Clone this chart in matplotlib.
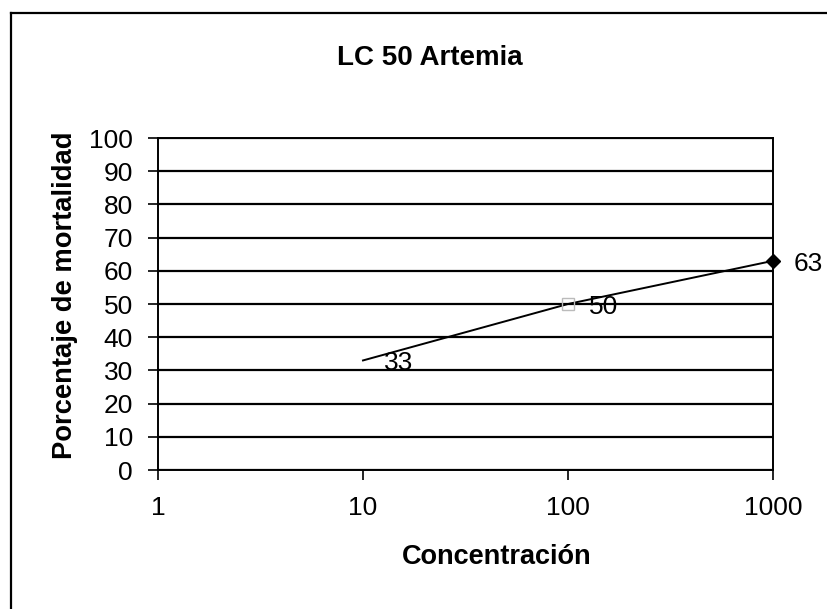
import numpy as np
import matplotlib as mpl
mpl.use('Agg')
import matplotlib.pyplot as plt
from matplotlib.lines import Line2D

plt.rcParams['font.family'] = ['Liberation Sans', 'DejaVu Sans']

# data
concentracion = [10, 100, 1000]
mortalidad = [33, 50, 63]
etiquetas = ["33", "50", "63"]
x_ticks = [1, 10, 100, 1000]
y_ticks = list(range(0, 101, 10))

W, H = 828, 609
fig = plt.figure(figsize=(W / 100, H / 100), dpi=100)

# plot area in pixels: left 158, right 773, top 138, bottom 470
ax = fig.add_axes([158 / W, 1 - 470 / H, (773 - 158) / W, (470 - 138) / H])

ax.set_xscale('log')
ax.set_xlim(1, 1000)
ax.set_ylim(0, 100)
ax.set_xticks(x_ticks)
ax.set_xticklabels([str(t) for t in x_ticks])
ax.xaxis.set_minor_locator(mpl.ticker.NullLocator())
ax.set_yticks(y_ticks)
ax.tick_params(axis='both', labelsize=19, direction='out', length=7, width=1.2, colors='black')
ax.tick_params(axis='x', pad=12)
ax.tick_params(axis='y', pad=11)

for y in y_ticks:
    ax.axhline(y, color='black', lw=1.6, zorder=1)

for sp in ax.spines.values():
    sp.set_linewidth(1.4)
    sp.set_color('black')

ax.plot(concentracion, mortalidad, color='black', lw=1.4, zorder=3)
ax.plot(concentracion[1], mortalidad[1], marker='s', ms=8, mfc='none', mec='#bbbbbb', zorder=3)
ax.plot(concentracion[2], mortalidad[2], marker='D', ms=7, color='black', zorder=4, clip_on=False)

for xv, yv, t in zip(concentracion, mortalidad, etiquetas):
    ax.annotate(t, (xv, yv), xytext=(15, -2), textcoords='offset points',
                ha='left', va='center', fontsize=19, annotation_clip=False)

fig.text(430 / W, 1 - 58 / H, "LC 50 Artemia", ha='center', va='center',
         fontsize=20, fontweight='bold')
fig.text(497 / W, 1 - 557 / H, "Concentración", ha='center', va='center',
         fontsize=19.5, fontweight='bold')
fig.text(65 / W, 1 - 295 / H, "Porcentaje de mortalidad", ha='center', va='center',
         rotation=90, fontsize=19.7, fontweight='bold')

# outer frame: only left and top edges visible in the scan
fig.add_artist(Line2D([11 / W, 11 / W], [0, 1 - 13 / H], transform=fig.transFigure,
                      color='black', lw=1.6))
fig.add_artist(Line2D([11 / W, 1], [1 - 13 / H, 1 - 13 / H], transform=fig.transFigure,
                      color='black', lw=1.6))

fig.savefig('out.png', dpi=100)
